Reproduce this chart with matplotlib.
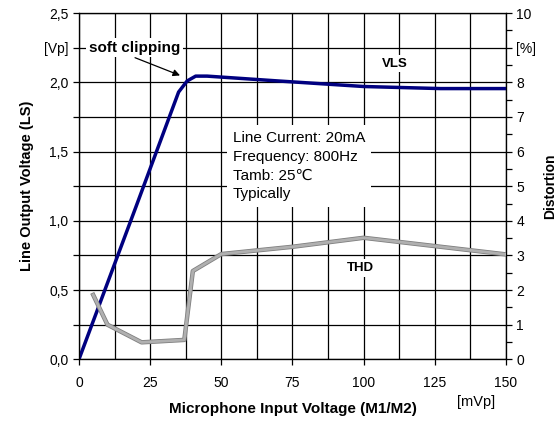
import matplotlib
matplotlib.use("Agg")
import matplotlib.pyplot as plt
import matplotlib.patheffects as pe
import numpy as np

plt.rcParams['font.family'] = ['Liberation Sans', 'DejaVu Sans']

# Data
vls_x = [0, 10, 20, 35, 38, 41, 45, 70, 100, 127, 150]
vls_y = [0, 0.55, 1.1, 1.93, 2.01, 2.045, 2.045, 2.01, 1.97, 1.955, 1.955]
thd_x = [5, 10, 22, 37, 40, 50, 75, 100, 150]
thd_y = [1.86, 1.0, 0.49, 0.56, 2.55, 3.04, 3.25, 3.51, 3.03]

xticks = [0, 25, 50, 75, 100, 125, 150]
yticks_left = [0, 0.25, 0.5, 0.75, 1.0, 1.25, 1.5, 1.75, 2.0, 2.25, 2.5]
yticklabels_left = ['0,0', '', '0,5', '', '1,0', '', '1,5', '', '2,0', '[Vp]', '2,5']
yticks_right = list(range(0, 11))
yticklabels_right = ['0', '1', '2', '3', '4', '5', '6', '7', '8', '[%]', '10']

fig = plt.figure(figsize=(5.6, 4.23), dpi=100)
ax = fig.add_axes([0.141, 0.1506, 0.7626, 0.8184])
ax.set_xlim(0, 150)
ax.set_ylim(0, 2.5)

# grid
for gx in np.arange(0, 150.1, 12.5):
    ax.axvline(gx, color='black', lw=0.9, zorder=1)
for gy in np.arange(0, 2.51, 0.25):
    ax.axhline(gy, color='black', lw=0.9, zorder=1)

ax.set_xticks(xticks)
ax.set_xticks(np.arange(0, 150.1, 12.5), minor=True)
ax.set_yticks(yticks_left)
ax.set_yticklabels(yticklabels_left)
ax.tick_params(axis='both', labelsize=10, direction='out', length=4, width=0.9, color='black')
ax.tick_params(axis='x', which='minor', length=0)
ax.tick_params(axis='x', pad=8)
for s in ax.spines.values():
    s.set_linewidth(0.9)

ax.plot(vls_x, vls_y, color='#000080', lw=2.5, zorder=4, solid_joinstyle='round')

ax2 = ax.twinx()
ax2.set_ylim(0, 10)
ax2.set_yticks(yticks_right)
ax2.set_yticklabels(yticklabels_right)
ax2.set_yticks(np.arange(0, 10.01, 0.5), minor=True)
ax2.tick_params(axis='y', labelsize=10, direction='out', length=4, width=0.9)
ax2.tick_params(axis='y', which='minor', length=4, width=0.9)
ax2.plot(thd_x, thd_y, color='#b0b0b0', lw=2.0, zorder=4,
         path_effects=[pe.Stroke(linewidth=3.2, foreground='#808080'), pe.Normal()])

ax.set_ylabel('Line Output Voltage (LS)', fontsize=10.5, fontweight='bold', labelpad=7)
ax2.set_ylabel('Distortion', fontsize=10, fontweight='bold', labelpad=5)
ax.set_xlabel('Microphone Input Voltage (M1/M2)', fontsize=11, fontweight='bold', labelpad=9)
fig.text(0.816, 0.04, '[mVp]', fontsize=10.5)

ax.text(3.5, 2.25, 'soft clipping', fontsize=11, fontweight='bold', va='center', ha='left',
        bbox=dict(facecolor='white', edgecolor='none', pad=2), zorder=5)
ax.annotate('', xy=(35.5, 2.05), xytext=(19.7, 2.178),
            arrowprops=dict(arrowstyle='-|>', color='black', lw=0.9, shrinkA=0, shrinkB=0,
                            mutation_scale=10), zorder=6)

ax.text(111, 2.135, 'VLS', fontsize=9.5, fontweight='bold', ha='center', va='center',
        bbox=dict(facecolor='white', edgecolor='none', pad=2), zorder=5)
ax.text(98.7, 0.658, 'THD', fontsize=9.5, fontweight='bold', ha='center', va='center',
        bbox=dict(facecolor='white', edgecolor='none', pad=2), zorder=5)
ax.text(54, 1.396, 'Line Current: 20mA\nFrequency: 800Hz\nTamb: 25\u2103\nTypically',
        fontsize=11, ha='left', va='center', linespacing=1.44,
        bbox=dict(facecolor='white', edgecolor='none', pad=4), zorder=5)

fig.savefig('out.png', dpi=100)
